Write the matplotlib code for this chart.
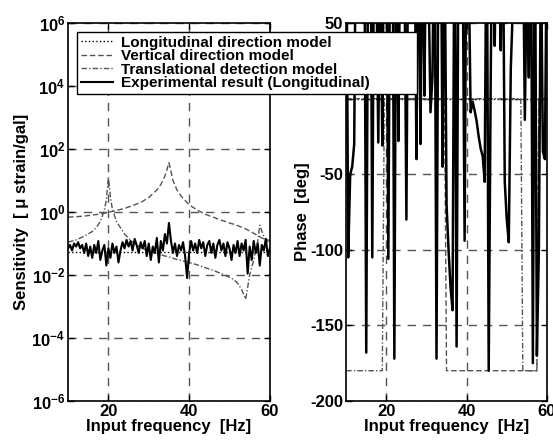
#!/usr/bin/env python

import numpy
import matplotlib
matplotlib.use('Agg')
import matplotlib.pyplot as plt


plt.rcParams['font.family'] = ['Liberation Sans', 'DejaVu Sans']
plt.rcParams['font.weight'] = 'bold'
plt.rcParams['axes.unicode_minus'] = False
plt.rcParams['mathtext.fontset'] = 'custom'
plt.rcParams['mathtext.rm'] = 'Liberation Sans'
plt.rcParams['mathtext.bf'] = 'Liberation Sans:bold'


# experimental result, 0.5 Hz steps from 10 to 60 Hz
freq = numpy.arange(10, 60.01, 0.5)

exp_mag = [0.07, 0.09, 0.06, 0.10, 0.08, 0.11, 0.07, 0.09, 0.05, 0.10,
           0.04, 0.08, 0.035, 0.09, 0.05, 0.12, 0.03, 0.06, 0.09, 0.02,
           0.07, 0.035, 0.10, 0.05, 0.08, 0.025, 0.06, 0.11, 0.07, 0.13,
           0.08, 0.12, 0.06, 0.14, 0.09, 0.05, 0.11, 0.07, 0.12, 0.04,
           0.10, 0.03, 0.08, 0.05, 0.15, 0.025, 0.12, 0.06, 0.20, 0.10,
           0.45, 0.12, 0.05, 0.10, 0.04, 0.09, 0.06, 0.11, 0.04, 0.008,
           0.05, 0.12, 0.06, 0.10, 0.05, 0.13, 0.07, 0.11, 0.04, 0.09,
           0.12, 0.05, 0.10, 0.035, 0.09, 0.13, 0.06, 0.10, 0.04, 0.11,
           0.07, 0.03, 0.09, 0.05, 0.12, 0.04, 0.10, 0.06, 0.13, 0.011,
           0.08, 0.03, 0.12, 0.05, 0.10, 0.02, 0.09, 0.06, 0.14, 0.04,
           0.07]

exp_phase = [150, -105, -50, -45, -30, 160, 100, 170, 60, 140,
             -168, 130, 170, -105, 150, 90, -29, 110, -31, 160,
             130, -106, 140, 175, -172, 150, -28, 120, 170, 100,
             -80, 140, 160, 90, 130, -40, 150, -30, 120, 2,
             150, 80, -9, 15, 140, -172, 130, 160, -45, 120,
             -70, -100, -125, -140, 150, -164, 130, 170, 100, -94,
             160, 90, -9, -2, -8, -15, -25, -33, -38, -55,
             150, -180, 13, 160, 35, 150, 90, 32, 130, -55,
             -80, -95, 20, 60, 140, 170, 100, 150, 120, -14,
             90, 14, 150, -175, 140, -170, -100, 100, -35, -40,
             120]

# models
long_freq = [10, 60]
long_mag = [0.053, 0.053]
long_phase = [0, 0]

model_freq = [10, 12, 14, 16, 17, 18, 19, 19.5, 20, 20.5, 21, 22, 24, 26, 28,
              30, 32, 33, 34, 34.5, 35, 35.5, 36, 37, 38, 40, 42, 44, 46, 48,
              50, 51, 52, 53, 53.5, 54, 54.5, 55, 56, 57, 57.5, 58, 58.5, 59, 60]

vert_mag = [0.69, 0.71, 0.74, 0.80, 0.83, 0.87, 0.92, 0.95, 0.98, 1.01, 1.05,
            1.12, 1.3, 1.6, 2.0, 2.9, 5.0, 7.5, 14, 22, 37, 20, 10, 5.0, 3.2,
            1.7, 1.15, 0.85, 0.68, 0.55, 0.45, 0.41, 0.37, 0.33, 0.31, 0.29,
            0.27, 0.25, 0.21, 0.18, 0.165, 0.15, 0.14, 0.135, 0.125]
vert_phase = [0, 0, 0, 0, 0, 0, 0, 0, 0, 0, 0, 0, 0, 0, 0,
              0, 0, 0, 0, 0, -180, -180, -180, -180, -180, -180, -180, -180, -180, -180,
              -180, -180, -180, -180, -180, -180, -180, -180, -180, -180, -180, 0, 0, 0, 0]

trans_mag = [0.11, 0.13, 0.17, 0.24, 0.32, 0.5, 1.1, 2.5, 13, 3.0, 1.2, 0.5,
             0.2, 0.11, 0.075, 0.057, 0.048, 0.044, 0.04, 0.039, 0.037, 0.036,
             0.034, 0.031, 0.029, 0.025, 0.021, 0.017, 0.014, 0.011, 0.0085,
             0.0072, 0.0055, 0.0035, 0.0024, 0.0017, 0.004, 0.01, 0.03, 0.12,
             0.38, 0.25, 0.17, 0.13, 0.1]
trans_phase = [-180, -180, -180, -180, -180, -180, -180, 0, 0, 0, 0, 0, 0, 0, 0,
               0, 0, 0, 0, 0, 0, 0, 0, 0, 0, 0, 0, 0, 0, 0,
               0, 0, 0, 0, 0, -180, -180, -180, -180, -180, -180, 0, 0, 0, 0]

labels = ['Longitudinal direction model', 'Vertical direction model',
          'Translational detection model', 'Experimental result (Longitudinal)']

mag_ticks = [1e-6, 1e-4, 1e-2, 1e0, 1e2, 1e4, 1e6]
mag_ticklabels = [r'$\mathbf{10^{-6}}$', r'$\mathbf{10^{-4}}$', r'$\mathbf{10^{-2}}$',
                  r'$\mathbf{10^{0}}$', r'$\mathbf{10^{2}}$', r'$\mathbf{10^{4}}$',
                  r'$\mathbf{10^{6}}$']
phase_ticks = [-200, -150, -100, -50, 0, 50]
phase_ticklabels = ['-200', '-150', '-100', '-50', '', '50']  # 0 sits under the legend
freq_ticks = [20, 40, 60]

grid_kw = dict(color='#555555', linestyle=(0, (6, 5)), linewidth=1.0)


def style_axes(ax):
	ax.tick_params(direction='in', top=True, right=True, labelsize=12, length=4, width=1, pad=2)
	for s in ax.spines.values():
		s.set_linewidth(1.2)
	ax.grid(True, **grid_kw)
	ax.set_xlim(10, 60)
	ax.set_xticks(freq_ticks)
	ax.set_xlabel('Input frequency  [Hz]', fontsize=12, fontweight='bold', labelpad=0)


fig = plt.figure(figsize=(5.53, 4.44), dpi=100)
ax1 = fig.add_axes([0.123, 0.097, 0.365, 0.851])
ax2 = fig.add_axes([0.626, 0.097, 0.363, 0.851])

# magnitude
h1, = ax1.semilogy(long_freq, long_mag, color='black', linestyle=':', linewidth=1.0)
h2, = ax1.semilogy(model_freq, vert_mag, color='#555555', linestyle=(0, (4, 2)), linewidth=1.0)
h3, = ax1.semilogy(model_freq, trans_mag, color='#555555', linestyle=(0, (4, 1.5, 1, 1.5)), linewidth=1.0)
h4, = ax1.semilogy(freq, exp_mag, color='black', linestyle='-', linewidth=1.5)
style_axes(ax1)
ax1.set_ylim(1e-6, 1e6)
ax1.set_yticks(mag_ticks)
ax1.set_yticklabels(mag_ticklabels)
ax1.minorticks_off()
ax1.set_ylabel('Sensitivity  [ \u03bc strain/gal]', fontsize=12, fontweight='bold', labelpad=2)

# phase
ax2.plot(long_freq, long_phase, color='black', linestyle=':', linewidth=1.0)
ax2.plot(model_freq, vert_phase, color='#555555', linestyle=(0, (4, 2)), linewidth=1.0)
ax2.plot(model_freq, trans_phase, color='#555555', linestyle=(0, (4, 1.5, 1, 1.5)), linewidth=1.0)
ax2.plot(freq, exp_phase, color='black', linestyle='-', linewidth=1.8)
style_axes(ax2)
ax2.set_ylim(-200, 50)
ax2.set_yticks(phase_ticks)
ax2.set_yticklabels(phase_ticklabels)
ax2.set_ylabel('Phase  [deg]', fontsize=12, fontweight='bold', labelpad=0)

# legend box spans both panels, as in the original figure
leg = fig.legend([h1, h2, h3, h4], labels, loc='upper left',
                 bbox_to_anchor=(77 / 553.0, 1 - 98 / 444.0, 340 / 553.0, 66 / 444.0),
                 mode='expand',
                 prop=dict(size=11, weight='bold'), frameon=True, fancybox=False,
                 borderpad=0.25, labelspacing=-0.04, handlelength=2.1, handletextpad=0.55,
                 borderaxespad=0)
leg.get_frame().set_edgecolor('black')
leg.get_frame().set_linewidth(1.0)
leg.get_frame().set_alpha(1)

fig.savefig('out.png', dpi=100)
